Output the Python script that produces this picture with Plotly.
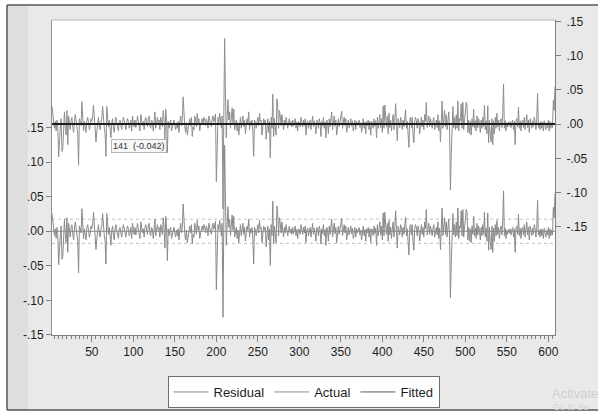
import plotly.graph_objects as go

# ---------------- data (values in thousandths) ----------
FIRST_OBS = 2
ACTUAL_MILLI = [
    26, 14, 2, -6, 4, -10, 6, -4, -48, -18,
    -6, 8, -40, -36, 10, 18, -4, -16, 20, -30,
    12, 4, -8, 6, 10, -4, -12, 2, 14, 6,
    -6, -14, -60, 8, 4, -2, 33, 12, -10, 4,
    -4, -12, 6, 10, 2, -8, -3, 8, 4, 12,
    28, 6, -4, -26, -10, 4, 10, -2, -8, 3,
    8, 26, 4, -6, -14, -47, 26, 10, -4, 6,
    -8, -20, 2, 8, -6, -12, 4, 10, 2, -5,
    -10, 4, 6, -2, -8, 3, 10, 5, -3, -8,
    2, 8, 4, -6, -2, 6, -10, 12, 3, -4,
    6, -5, 2, 12, 4, -6, -10, 14, 5, -2,
    4, -8, 6, 10, 2, -4, 8, 12, -3, -6,
    6, 3, -10, 8, 18, -6, 4, 10, 2, 6,
    -8, 10, 4, -4, 20, 6, -24, 22, 8, -42,
    4, -6, 2, 6, -10, -4, 3, 6, -2, -8,
    2, -6, 4, -12, 3, 12, -2, 8, 40, 6,
    -4, -12, 2, -16, -6, 4, 8, -2, 10, -18,
    -4, -8, 12, 6, -4, 16, 2, 8, -10, -2,
    4, 8, 2, 10, 6, -2, 8, 4, -6, 12,
    6, 2, -4, 8, 12, 3, 8, 15, -84, -2,
    10, 2, 16, 6, -6, 12, -124, 14, 125, 42,
    -20, 10, 36, 6, 18, -6, 8, 24, 2, 22,
    -8, 4, 6, -10, 2, -16, 4, 10, -6, 2,
    12, -4, 6, -14, -4, 8, 2, 18, -8, 4,
    -2, 6, -12, -47, 6, 2, -6, 4, 10, -2,
    16, 4, 6, -16, -4, 8, 2, 6, -22, -6,
    8, -12, 4, -49, 10, -6, 44, -18, 8, -4,
    -16, 37, 24, -6, 20, 12, -2, 14, 6, -8,
    6, -2, 10, 4, -6, 3, 8, -2, 4, -4,
    6, -3, 2, 8, -6, 3, -10, 4, 2, -4,
    10, 4, -4, 6, -2, 8, -16, 2, 5, -6,
    2, 6, -8, 3, 12, -4, 5, -2, -14, 6,
    4, -6, 8, 2, -18, 4, -3, 10, -6, 3,
    -20, 6, 2, -14, 8, -4, 4, 18, -8, 4,
    12, -3, 6, -16, 2, 8, -4, 4, 8, 19,
    -6, 4, 10, -2, 8, -12, 3, 6, -5, 2,
    8, -3, 5, -10, 3, 6, -8, 4, -2, 5,
    6, -5, 2, -12, 4, 8, -6, 3, -14, 4,
    -2, 6, -8, 4, -16, 4, 2, -6, 8, -3,
    5, -20, 10, -6, 4, 14, -5, 8, -12, 27,
    -6, 28, 10, -4, 12, -14, 16, -5, 6, -10,
    4, 14, -8, 5, 30, -6, -24, 8, 3, -5,
    10, 5, -8, 6, -4, 12, 21, -6, 4, -14,
    -34, 6, 10, -5, 10, -16, -27, 4, 10, 5,
    -6, 8, 3, -14, 5, 10, -4, 6, -8, 14,
    4, 32, -5, 6, 12, -4, 8, 2, -6, 5,
    10, -8, 4, 6, -5, 14, -10, 5, -26, 8,
    34, -6, 12, 20, -4, 14, -8, 6, 18, -10,
    -96, -45, 6, 26, -5, 10, -8, 14, -6, 34,
    -10, 8, 5, 30, -6, 32, -8, 4, 10, 32,
    28, -12, 6, -14, 4, -16, 8, -4, 22, -6,
    5, -10, 12, -5, 8, 2, -12, 6, -6, 10,
    -4, 28, -8, 5, -14, 27, -27, 6, -16, -26,
    8, -30, 5, -14, 10, -6, 16, -4, 6, -10,
    4, 8, -5, 16, 59, -6, 5, -10, 2, -4,
    3, -2, 4, -5, 2, 6, -8, 4, -30, 5,
    8, -4, 25, -6, 5, -10, 4, 6, -5, 10,
    -8, 4, 14, -5, 6, -12, 8, 2, -6, 5,
    -4, 10, 5, -8, 6, 45, -5, 2, -8, 4,
    -6, 3, -10, 5, -4, -8, 2, -5, 6, -10,
    4, -6, 2, -5, 35, 20, 55,
]
FITTED_LEVEL = 0.0004          # fitted values (constant mean)
REG_SE = 0.0175                 # S.E. of regression (dotted bands)
X_TICKS = [50, 100, 150, 200, 250, 300, 350, 400, 450, 500, 550, 600]
Y_TICKS = [-0.15, -0.10, -0.05, 0.00, 0.05, 0.10, 0.15]
Y_TICK_TEXT = ["-.15", "-.10", "-.05", ".00", ".05", ".10", ".15"]
LABEL_OBS, LABEL_VAL = 141, -0.042

obs = list(range(FIRST_OBS, FIRST_OBS + len(ACTUAL_MILLI)))
actual = [v / 1000.0 for v in ACTUAL_MILLI]
fitted = [FITTED_LEVEL for _ in actual]
residual = [a - f for a, f in zip(actual, fitted)]

# ---------------- geometry helpers ----------------
W, H = 598, 412
ML, MR, MT, MB = 52, 43, 20, 77
PW, PH = W - ML - MR, H - MT - MB


def px(x):
    return (x - ML) / PW


def py(y):
    return (H - MB - y) / PH


FONT = "Arial, Liberation Sans, sans-serif"

fig = go.Figure()
fig.add_trace(go.Scatter(x=obs, y=residual, name="Residual", mode="lines",
                         line=dict(color="#8a8a8a", width=1), yaxis="y"))
fig.add_trace(go.Scatter(x=obs, y=actual, name="Actual", mode="lines",
                         line=dict(color="#8e8e8e", width=1), yaxis="y2"))
fig.add_trace(go.Scatter(x=obs, y=fitted, name="Fitted", mode="lines",
                         line=dict(color="#1e1e1e", width=2), yaxis="y2",
                         showlegend=False))
# legend entry for the fitted series (thin sample line, as in the original key)
fig.add_trace(go.Scatter(x=[None], y=[None], name="Fitted", mode="lines",
                         line=dict(color="#5a5a5a", width=1), yaxis="y2"))

shapes = []
# outer frame background and dark borders
shapes.append(dict(type="rect", xref="paper", yref="paper", layer="below",
                   x0=px(7), x1=px(W + 2), y0=py(410), y1=py(5),
                   fillcolor="#e9e9e9", line=dict(width=0)))
shapes.append(dict(type="rect", xref="paper", yref="paper", layer="below",
                   x0=px(7), x1=px(28), y0=py(410), y1=py(5),
                   fillcolor="#dedede", line=dict(width=0)))
shapes.append(dict(type="rect", xref="paper", yref="paper", layer="below",
                   x0=0, x1=1, y0=0, y1=1, fillcolor="white", line=dict(width=0)))
for (x0, y0, x1, y1) in [(7, 5, W + 2, 5), (7, 5, 7, 410), (7, 410, W + 2, 410)]:
    shapes.append(dict(type="line", xref="paper", yref="paper",
                       x0=px(x0), x1=px(x1), y0=py(y0), y1=py(y1),
                       line=dict(color="#555555", width=1.5)))
# plot top border
shapes.append(dict(type="line", xref="paper", yref="paper", x0=0, x1=1, y0=1, y1=1,
                   line=dict(color="#b8b8b8", width=1)))
# residual zero line and +-SE dotted bands
shapes.append(dict(type="line", xref="paper", yref="y", x0=0, x1=1, y0=0, y1=0,
                   layer="below", line=dict(color="#8a8a8a", width=1)))
for s in (REG_SE, -REG_SE):
    shapes.append(dict(type="line", xref="paper", yref="y", x0=0, x1=1, y0=s, y1=s,
                       layer="below", line=dict(color="#c2c2c2", width=1, dash="dot")))

annotations = [
    dict(x=LABEL_OBS, y=LABEL_VAL, xref="x", yref="y2", text="141  (-0.042)",
         showarrow=False, xanchor="right", yanchor="bottom",
         font=dict(family=FONT, size=9, color="#333333"),
         bgcolor="#f7f7f7", bordercolor="#b5b5b5", borderwidth=1, borderpad=1),
    dict(x=px(550), y=py(393), xref="paper", yref="paper", text="Activate",
         showarrow=False, xanchor="left", yanchor="middle",
         font=dict(family=FONT, size=13, color="#cfcfcf")),
    dict(x=px(551), y=py(407), xref="paper", yref="paper", text="Go to Se",
         showarrow=False, xanchor="left", yanchor="middle",
         font=dict(family=FONT, size=9, color="#d4d4d4")),
]

axis_font = dict(family=FONT, size=12, color="#1e1e1e")
fig.update_layout(
    width=W, height=H,
    margin=dict(l=ML, r=MR, t=MT, b=MB, autoexpand=False),
    paper_bgcolor="white", plot_bgcolor="white",
    showlegend=True,
    legend=dict(orientation="h", x=0.5, xanchor="center", y=py(376), yanchor="top",
                bgcolor="white", bordercolor="#6e6e6e", borderwidth=1,
                font=dict(family=FONT, size=13, color="#1e1e1e"),
                itemwidth=35, tracegroupgap=0),
    xaxis=dict(range=[FIRST_OBS, obs[-1]], tickvals=X_TICKS, ticks="outside",
               ticklen=6, tickcolor="#808080", showline=True, linecolor="#808080",
               showgrid=False, zeroline=False, tickfont=axis_font,
               minor=dict(dtick=5, tick0=0, ticks="outside", ticklen=3,
                          tickcolor="#808080", showgrid=False)),
    yaxis=dict(range=[-0.1501, 0.3058], tickvals=Y_TICKS, ticktext=Y_TICK_TEXT,
               ticks="outside", ticklen=5, tickcolor="#808080", showline=True,
               linecolor="#909090", showgrid=False, zeroline=False, tickfont=axis_font),
    yaxis2=dict(range=[-0.3082, 0.1523], tickvals=Y_TICKS, ticktext=Y_TICK_TEXT,
                overlaying="y", side="right", ticks="outside", ticklen=5,
                ticklabelstandoff=3,
                tickcolor="#808080", showline=True, linecolor="#808080",
                showgrid=False, zeroline=False, tickfont=axis_font),
    shapes=shapes,
    annotations=annotations,
)

fig.write_html("out.html")
